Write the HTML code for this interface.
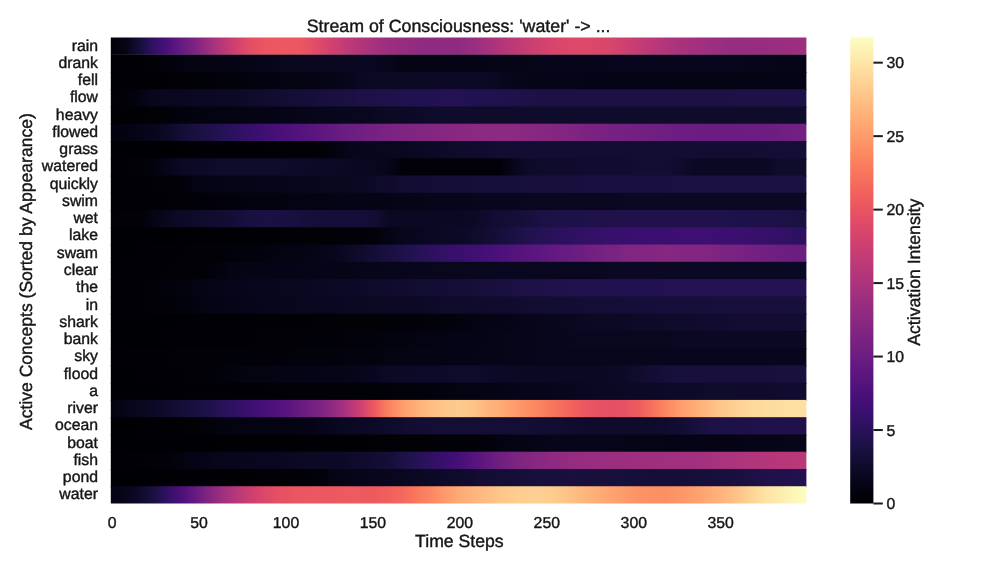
<!DOCTYPE html>
<html><head><meta charset="utf-8"><title>Stream of Consciousness</title>
<style>
html,body{margin:0;padding:0;background:#fff;}
body{width:1000px;height:571px;overflow:hidden;}
svg{display:block;}
text{text-rendering:geometricPrecision;font-family:"Liberation Sans",Arial,sans-serif;fill:#161616;stroke:#161616;stroke-width:0.4px;}
.t{font-size:15.8px;}
.l{font-size:17.8px;}
.a{font-size:17.65px;}
</style></head><body>
<svg width="1000" height="571" viewBox="0 0 1000 571">
<defs>
<linearGradient id="g0" gradientUnits="userSpaceOnUse" x1="110.80" y1="0" x2="806.40" y2="0"><stop offset="0" stop-color="#020109"/><stop offset="0.02" stop-color="#040414"/><stop offset="0.04" stop-color="#140e36"/><stop offset="0.06" stop-color="#2f1163"/><stop offset="0.08" stop-color="#4a1079"/><stop offset="0.1" stop-color="#641a80"/><stop offset="0.12" stop-color="#7c2382"/><stop offset="0.14" stop-color="#9b2e7f"/><stop offset="0.16" stop-color="#b83779"/><stop offset="0.18" stop-color="#d0416f"/><stop offset="0.2" stop-color="#e34e65"/><stop offset="0.22" stop-color="#ea5661"/><stop offset="0.24" stop-color="#ec5860"/><stop offset="0.26" stop-color="#ec5860"/><stop offset="0.28" stop-color="#e95462"/><stop offset="0.3" stop-color="#de4968"/><stop offset="0.32" stop-color="#cf4070"/><stop offset="0.34" stop-color="#bf3a77"/><stop offset="0.36" stop-color="#b2357b"/><stop offset="0.38" stop-color="#a6317d"/><stop offset="0.4" stop-color="#9c2e7f"/><stop offset="0.42" stop-color="#962c80"/><stop offset="0.44" stop-color="#912b81"/><stop offset="0.46" stop-color="#902a81"/><stop offset="0.48" stop-color="#902a81"/><stop offset="0.5" stop-color="#902a81"/><stop offset="0.52" stop-color="#982d80"/><stop offset="0.54" stop-color="#a5317e"/><stop offset="0.56" stop-color="#b2357b"/><stop offset="0.58" stop-color="#bd3977"/><stop offset="0.6" stop-color="#c83e73"/><stop offset="0.62" stop-color="#d2426f"/><stop offset="0.64" stop-color="#d9466b"/><stop offset="0.66" stop-color="#dc4869"/><stop offset="0.68" stop-color="#de4968"/><stop offset="0.7" stop-color="#db476a"/><stop offset="0.72" stop-color="#d6456c"/><stop offset="0.74" stop-color="#cd4071"/><stop offset="0.76" stop-color="#c43c75"/><stop offset="0.78" stop-color="#ba3878"/><stop offset="0.8" stop-color="#b0357b"/><stop offset="0.82" stop-color="#a8327d"/><stop offset="0.84" stop-color="#a3307e"/><stop offset="0.86" stop-color="#9e2f7f"/><stop offset="0.88" stop-color="#992d80"/><stop offset="0.9" stop-color="#962c80"/><stop offset="0.92" stop-color="#982d80"/><stop offset="0.94" stop-color="#982d80"/><stop offset="0.96" stop-color="#992d80"/><stop offset="0.98" stop-color="#9b2e7f"/><stop offset="1" stop-color="#9e2f7f"/></linearGradient>
<linearGradient id="g1" gradientUnits="userSpaceOnUse" x1="110.80" y1="0" x2="806.40" y2="0"><stop offset="0" stop-color="#000004"/><stop offset="0.02" stop-color="#010005"/><stop offset="0.04" stop-color="#010005"/><stop offset="0.06" stop-color="#010108"/><stop offset="0.08" stop-color="#02020b"/><stop offset="0.1" stop-color="#030312"/><stop offset="0.12" stop-color="#030312"/><stop offset="0.14" stop-color="#040414"/><stop offset="0.16" stop-color="#050416"/><stop offset="0.18" stop-color="#050416"/><stop offset="0.2" stop-color="#060518"/><stop offset="0.22" stop-color="#06051a"/><stop offset="0.24" stop-color="#08071e"/><stop offset="0.26" stop-color="#08071e"/><stop offset="0.28" stop-color="#08071e"/><stop offset="0.3" stop-color="#090720"/><stop offset="0.32" stop-color="#090720"/><stop offset="0.34" stop-color="#090720"/><stop offset="0.36" stop-color="#090720"/><stop offset="0.38" stop-color="#090720"/><stop offset="0.4" stop-color="#07061c"/><stop offset="0.42" stop-color="#040414"/><stop offset="0.44" stop-color="#040414"/><stop offset="0.46" stop-color="#040414"/><stop offset="0.48" stop-color="#050416"/><stop offset="0.5" stop-color="#050416"/><stop offset="0.52" stop-color="#050416"/><stop offset="0.54" stop-color="#050416"/><stop offset="0.56" stop-color="#060518"/><stop offset="0.58" stop-color="#060518"/><stop offset="0.6" stop-color="#060518"/><stop offset="0.62" stop-color="#06051a"/><stop offset="0.64" stop-color="#06051a"/><stop offset="0.66" stop-color="#06051a"/><stop offset="0.68" stop-color="#06051a"/><stop offset="0.7" stop-color="#06051a"/><stop offset="0.72" stop-color="#07061c"/><stop offset="0.74" stop-color="#07061c"/><stop offset="0.76" stop-color="#07061c"/><stop offset="0.78" stop-color="#07061c"/><stop offset="0.8" stop-color="#07061c"/><stop offset="0.82" stop-color="#07061c"/><stop offset="0.84" stop-color="#07061c"/><stop offset="0.86" stop-color="#07061c"/><stop offset="0.88" stop-color="#07061c"/><stop offset="0.9" stop-color="#07061c"/><stop offset="0.92" stop-color="#06051a"/><stop offset="0.94" stop-color="#06051a"/><stop offset="0.96" stop-color="#060518"/><stop offset="0.98" stop-color="#060518"/><stop offset="1" stop-color="#050416"/></linearGradient>
<linearGradient id="g2" gradientUnits="userSpaceOnUse" x1="110.80" y1="0" x2="806.40" y2="0"><stop offset="0" stop-color="#000004"/><stop offset="0.02" stop-color="#000004"/><stop offset="0.04" stop-color="#010005"/><stop offset="0.06" stop-color="#010005"/><stop offset="0.08" stop-color="#010005"/><stop offset="0.1" stop-color="#010106"/><stop offset="0.12" stop-color="#010108"/><stop offset="0.14" stop-color="#020109"/><stop offset="0.16" stop-color="#02020b"/><stop offset="0.18" stop-color="#02020d"/><stop offset="0.2" stop-color="#03030f"/><stop offset="0.22" stop-color="#03030f"/><stop offset="0.24" stop-color="#030312"/><stop offset="0.26" stop-color="#030312"/><stop offset="0.28" stop-color="#030312"/><stop offset="0.3" stop-color="#040414"/><stop offset="0.32" stop-color="#060518"/><stop offset="0.34" stop-color="#07061c"/><stop offset="0.36" stop-color="#0a0822"/><stop offset="0.38" stop-color="#0b0924"/><stop offset="0.4" stop-color="#0b0924"/><stop offset="0.42" stop-color="#0b0924"/><stop offset="0.44" stop-color="#0b0924"/><stop offset="0.46" stop-color="#0c0926"/><stop offset="0.48" stop-color="#0c0926"/><stop offset="0.5" stop-color="#0c0926"/><stop offset="0.52" stop-color="#0c0926"/><stop offset="0.54" stop-color="#0c0926"/><stop offset="0.56" stop-color="#090720"/><stop offset="0.58" stop-color="#06051a"/><stop offset="0.6" stop-color="#060518"/><stop offset="0.62" stop-color="#060518"/><stop offset="0.64" stop-color="#060518"/><stop offset="0.66" stop-color="#060518"/><stop offset="0.68" stop-color="#050416"/><stop offset="0.7" stop-color="#050416"/><stop offset="0.72" stop-color="#050416"/><stop offset="0.74" stop-color="#050416"/><stop offset="0.76" stop-color="#050416"/><stop offset="0.78" stop-color="#050416"/><stop offset="0.8" stop-color="#050416"/><stop offset="0.82" stop-color="#040414"/><stop offset="0.84" stop-color="#040414"/><stop offset="0.86" stop-color="#040414"/><stop offset="0.88" stop-color="#040414"/><stop offset="0.9" stop-color="#040414"/><stop offset="0.92" stop-color="#040414"/><stop offset="0.94" stop-color="#040414"/><stop offset="0.96" stop-color="#040414"/><stop offset="0.98" stop-color="#040414"/><stop offset="1" stop-color="#040414"/></linearGradient>
<linearGradient id="g3" gradientUnits="userSpaceOnUse" x1="110.80" y1="0" x2="806.40" y2="0"><stop offset="0" stop-color="#010005"/><stop offset="0.02" stop-color="#010108"/><stop offset="0.04" stop-color="#030312"/><stop offset="0.06" stop-color="#08071e"/><stop offset="0.08" stop-color="#090720"/><stop offset="0.1" stop-color="#090720"/><stop offset="0.12" stop-color="#0a0822"/><stop offset="0.14" stop-color="#0a0822"/><stop offset="0.16" stop-color="#0b0924"/><stop offset="0.18" stop-color="#0c0926"/><stop offset="0.2" stop-color="#0e0b2b"/><stop offset="0.22" stop-color="#110c2f"/><stop offset="0.24" stop-color="#120d31"/><stop offset="0.26" stop-color="#140e36"/><stop offset="0.28" stop-color="#150e38"/><stop offset="0.3" stop-color="#180f3d"/><stop offset="0.32" stop-color="#19103f"/><stop offset="0.34" stop-color="#1a1042"/><stop offset="0.36" stop-color="#1d1147"/><stop offset="0.38" stop-color="#1e1149"/><stop offset="0.4" stop-color="#20114b"/><stop offset="0.42" stop-color="#21114e"/><stop offset="0.44" stop-color="#221150"/><stop offset="0.46" stop-color="#221150"/><stop offset="0.48" stop-color="#241253"/><stop offset="0.5" stop-color="#241253"/><stop offset="0.52" stop-color="#221150"/><stop offset="0.54" stop-color="#221150"/><stop offset="0.56" stop-color="#21114e"/><stop offset="0.58" stop-color="#20114b"/><stop offset="0.6" stop-color="#1d1147"/><stop offset="0.62" stop-color="#1c1044"/><stop offset="0.64" stop-color="#1c1044"/><stop offset="0.66" stop-color="#1c1044"/><stop offset="0.68" stop-color="#1c1044"/><stop offset="0.7" stop-color="#1c1044"/><stop offset="0.72" stop-color="#1c1044"/><stop offset="0.74" stop-color="#1c1044"/><stop offset="0.76" stop-color="#1c1044"/><stop offset="0.78" stop-color="#1c1044"/><stop offset="0.8" stop-color="#1c1044"/><stop offset="0.82" stop-color="#1c1044"/><stop offset="0.84" stop-color="#1c1044"/><stop offset="0.86" stop-color="#1c1044"/><stop offset="0.88" stop-color="#1c1044"/><stop offset="0.9" stop-color="#1d1147"/><stop offset="0.92" stop-color="#1d1147"/><stop offset="0.94" stop-color="#1d1147"/><stop offset="0.96" stop-color="#1d1147"/><stop offset="0.98" stop-color="#1d1147"/><stop offset="1" stop-color="#1e1149"/></linearGradient>
<linearGradient id="g4" gradientUnits="userSpaceOnUse" x1="110.80" y1="0" x2="806.40" y2="0"><stop offset="0" stop-color="#000004"/><stop offset="0.02" stop-color="#010005"/><stop offset="0.04" stop-color="#010005"/><stop offset="0.06" stop-color="#010106"/><stop offset="0.08" stop-color="#010108"/><stop offset="0.1" stop-color="#02020d"/><stop offset="0.12" stop-color="#03030f"/><stop offset="0.14" stop-color="#030312"/><stop offset="0.16" stop-color="#030312"/><stop offset="0.18" stop-color="#030312"/><stop offset="0.2" stop-color="#040414"/><stop offset="0.22" stop-color="#040414"/><stop offset="0.24" stop-color="#050416"/><stop offset="0.26" stop-color="#060518"/><stop offset="0.28" stop-color="#06051a"/><stop offset="0.3" stop-color="#07061c"/><stop offset="0.32" stop-color="#07061c"/><stop offset="0.34" stop-color="#08071e"/><stop offset="0.36" stop-color="#08071e"/><stop offset="0.38" stop-color="#0a0822"/><stop offset="0.4" stop-color="#0b0924"/><stop offset="0.42" stop-color="#0c0926"/><stop offset="0.44" stop-color="#0d0a29"/><stop offset="0.46" stop-color="#0e0b2b"/><stop offset="0.48" stop-color="#0e0b2b"/><stop offset="0.5" stop-color="#0e0b2b"/><stop offset="0.52" stop-color="#0e0b2b"/><stop offset="0.54" stop-color="#0e0b2b"/><stop offset="0.56" stop-color="#0e0b2b"/><stop offset="0.58" stop-color="#0e0b2b"/><stop offset="0.6" stop-color="#0e0b2b"/><stop offset="0.62" stop-color="#0e0b2b"/><stop offset="0.64" stop-color="#0e0b2b"/><stop offset="0.66" stop-color="#0e0b2b"/><stop offset="0.68" stop-color="#0e0b2b"/><stop offset="0.7" stop-color="#0e0b2b"/><stop offset="0.72" stop-color="#0e0b2b"/><stop offset="0.74" stop-color="#0e0b2b"/><stop offset="0.76" stop-color="#0e0b2b"/><stop offset="0.78" stop-color="#0e0b2b"/><stop offset="0.8" stop-color="#0e0b2b"/><stop offset="0.82" stop-color="#0e0b2b"/><stop offset="0.84" stop-color="#0e0b2b"/><stop offset="0.86" stop-color="#0e0b2b"/><stop offset="0.88" stop-color="#0e0b2b"/><stop offset="0.9" stop-color="#0e0b2b"/><stop offset="0.92" stop-color="#0e0b2b"/><stop offset="0.94" stop-color="#0e0b2b"/><stop offset="0.96" stop-color="#0e0b2b"/><stop offset="0.98" stop-color="#0e0b2b"/><stop offset="1" stop-color="#0e0b2b"/></linearGradient>
<linearGradient id="g5" gradientUnits="userSpaceOnUse" x1="110.80" y1="0" x2="806.40" y2="0"><stop offset="0" stop-color="#02020d"/><stop offset="0.02" stop-color="#030312"/><stop offset="0.04" stop-color="#050416"/><stop offset="0.06" stop-color="#07061c"/><stop offset="0.08" stop-color="#0c0926"/><stop offset="0.1" stop-color="#130d34"/><stop offset="0.12" stop-color="#19103f"/><stop offset="0.14" stop-color="#1e1149"/><stop offset="0.16" stop-color="#251255"/><stop offset="0.18" stop-color="#2d1161"/><stop offset="0.2" stop-color="#36106b"/><stop offset="0.22" stop-color="#3f0f72"/><stop offset="0.24" stop-color="#471078"/><stop offset="0.26" stop-color="#4e117b"/><stop offset="0.28" stop-color="#56147d"/><stop offset="0.3" stop-color="#5d177f"/><stop offset="0.32" stop-color="#651a80"/><stop offset="0.34" stop-color="#6b1d81"/><stop offset="0.36" stop-color="#701f81"/><stop offset="0.38" stop-color="#762181"/><stop offset="0.4" stop-color="#7b2382"/><stop offset="0.42" stop-color="#7e2482"/><stop offset="0.44" stop-color="#812581"/><stop offset="0.46" stop-color="#842681"/><stop offset="0.48" stop-color="#862781"/><stop offset="0.5" stop-color="#892881"/><stop offset="0.52" stop-color="#8b2981"/><stop offset="0.54" stop-color="#8c2981"/><stop offset="0.56" stop-color="#8c2981"/><stop offset="0.58" stop-color="#8c2981"/><stop offset="0.6" stop-color="#892881"/><stop offset="0.62" stop-color="#862781"/><stop offset="0.64" stop-color="#842681"/><stop offset="0.66" stop-color="#802582"/><stop offset="0.68" stop-color="#7c2382"/><stop offset="0.7" stop-color="#792282"/><stop offset="0.72" stop-color="#762181"/><stop offset="0.74" stop-color="#752181"/><stop offset="0.76" stop-color="#721f81"/><stop offset="0.78" stop-color="#701f81"/><stop offset="0.8" stop-color="#6e1e81"/><stop offset="0.82" stop-color="#6d1d81"/><stop offset="0.84" stop-color="#6b1d81"/><stop offset="0.86" stop-color="#6a1c81"/><stop offset="0.88" stop-color="#6a1c81"/><stop offset="0.9" stop-color="#6a1c81"/><stop offset="0.92" stop-color="#6b1d81"/><stop offset="0.94" stop-color="#6d1d81"/><stop offset="0.96" stop-color="#6e1e81"/><stop offset="0.98" stop-color="#721f81"/><stop offset="1" stop-color="#752181"/></linearGradient>
<linearGradient id="g6" gradientUnits="userSpaceOnUse" x1="110.80" y1="0" x2="806.40" y2="0"><stop offset="0" stop-color="#000004"/><stop offset="0.02" stop-color="#000004"/><stop offset="0.04" stop-color="#000004"/><stop offset="0.06" stop-color="#000004"/><stop offset="0.08" stop-color="#000004"/><stop offset="0.1" stop-color="#000004"/><stop offset="0.12" stop-color="#010005"/><stop offset="0.14" stop-color="#010005"/><stop offset="0.16" stop-color="#010005"/><stop offset="0.18" stop-color="#010005"/><stop offset="0.2" stop-color="#010005"/><stop offset="0.22" stop-color="#010005"/><stop offset="0.24" stop-color="#010106"/><stop offset="0.26" stop-color="#010106"/><stop offset="0.28" stop-color="#010106"/><stop offset="0.3" stop-color="#010108"/><stop offset="0.32" stop-color="#03030f"/><stop offset="0.34" stop-color="#06051a"/><stop offset="0.36" stop-color="#07061c"/><stop offset="0.38" stop-color="#08071e"/><stop offset="0.4" stop-color="#08071e"/><stop offset="0.42" stop-color="#090720"/><stop offset="0.44" stop-color="#0a0822"/><stop offset="0.46" stop-color="#0b0924"/><stop offset="0.48" stop-color="#0d0a29"/><stop offset="0.5" stop-color="#0e0b2b"/><stop offset="0.52" stop-color="#100b2d"/><stop offset="0.54" stop-color="#110c2f"/><stop offset="0.56" stop-color="#120d31"/><stop offset="0.58" stop-color="#120d31"/><stop offset="0.6" stop-color="#130d34"/><stop offset="0.62" stop-color="#130d34"/><stop offset="0.64" stop-color="#130d34"/><stop offset="0.66" stop-color="#130d34"/><stop offset="0.68" stop-color="#130d34"/><stop offset="0.7" stop-color="#130d34"/><stop offset="0.72" stop-color="#130d34"/><stop offset="0.74" stop-color="#130d34"/><stop offset="0.76" stop-color="#130d34"/><stop offset="0.78" stop-color="#130d34"/><stop offset="0.8" stop-color="#130d34"/><stop offset="0.82" stop-color="#130d34"/><stop offset="0.84" stop-color="#130d34"/><stop offset="0.86" stop-color="#130d34"/><stop offset="0.88" stop-color="#130d34"/><stop offset="0.9" stop-color="#130d34"/><stop offset="0.92" stop-color="#130d34"/><stop offset="0.94" stop-color="#140e36"/><stop offset="0.96" stop-color="#140e36"/><stop offset="0.98" stop-color="#140e36"/><stop offset="1" stop-color="#140e36"/></linearGradient>
<linearGradient id="g7" gradientUnits="userSpaceOnUse" x1="110.80" y1="0" x2="806.40" y2="0"><stop offset="0" stop-color="#000004"/><stop offset="0.02" stop-color="#010005"/><stop offset="0.04" stop-color="#010108"/><stop offset="0.06" stop-color="#02020d"/><stop offset="0.08" stop-color="#06051a"/><stop offset="0.1" stop-color="#0a0822"/><stop offset="0.12" stop-color="#0c0926"/><stop offset="0.14" stop-color="#0d0a29"/><stop offset="0.16" stop-color="#0e0b2b"/><stop offset="0.18" stop-color="#0e0b2b"/><stop offset="0.2" stop-color="#0e0b2b"/><stop offset="0.22" stop-color="#0e0b2b"/><stop offset="0.24" stop-color="#0e0b2b"/><stop offset="0.26" stop-color="#0d0a29"/><stop offset="0.28" stop-color="#0d0a29"/><stop offset="0.3" stop-color="#0c0926"/><stop offset="0.32" stop-color="#0b0924"/><stop offset="0.34" stop-color="#0a0822"/><stop offset="0.36" stop-color="#090720"/><stop offset="0.38" stop-color="#090720"/><stop offset="0.4" stop-color="#06051a"/><stop offset="0.42" stop-color="#020109"/><stop offset="0.44" stop-color="#020109"/><stop offset="0.46" stop-color="#020109"/><stop offset="0.48" stop-color="#020109"/><stop offset="0.5" stop-color="#020109"/><stop offset="0.52" stop-color="#020109"/><stop offset="0.54" stop-color="#020109"/><stop offset="0.56" stop-color="#020109"/><stop offset="0.58" stop-color="#07061c"/><stop offset="0.6" stop-color="#0d0a29"/><stop offset="0.62" stop-color="#0e0b2b"/><stop offset="0.64" stop-color="#100b2d"/><stop offset="0.66" stop-color="#100b2d"/><stop offset="0.68" stop-color="#110c2f"/><stop offset="0.7" stop-color="#110c2f"/><stop offset="0.72" stop-color="#110c2f"/><stop offset="0.74" stop-color="#110c2f"/><stop offset="0.76" stop-color="#120d31"/><stop offset="0.78" stop-color="#120d31"/><stop offset="0.8" stop-color="#120d31"/><stop offset="0.82" stop-color="#100b2d"/><stop offset="0.84" stop-color="#0a0822"/><stop offset="0.86" stop-color="#0a0822"/><stop offset="0.88" stop-color="#0a0822"/><stop offset="0.9" stop-color="#0a0822"/><stop offset="0.92" stop-color="#0a0822"/><stop offset="0.94" stop-color="#0a0822"/><stop offset="0.96" stop-color="#0e0b2b"/><stop offset="0.98" stop-color="#0e0b2b"/><stop offset="1" stop-color="#0e0b2b"/></linearGradient>
<linearGradient id="g8" gradientUnits="userSpaceOnUse" x1="110.80" y1="0" x2="806.40" y2="0"><stop offset="0" stop-color="#000004"/><stop offset="0.02" stop-color="#000004"/><stop offset="0.04" stop-color="#010005"/><stop offset="0.06" stop-color="#010005"/><stop offset="0.08" stop-color="#010106"/><stop offset="0.1" stop-color="#020109"/><stop offset="0.12" stop-color="#030312"/><stop offset="0.14" stop-color="#040414"/><stop offset="0.16" stop-color="#050416"/><stop offset="0.18" stop-color="#060518"/><stop offset="0.2" stop-color="#060518"/><stop offset="0.22" stop-color="#06051a"/><stop offset="0.24" stop-color="#06051a"/><stop offset="0.26" stop-color="#07061c"/><stop offset="0.28" stop-color="#07061c"/><stop offset="0.3" stop-color="#08071e"/><stop offset="0.32" stop-color="#08071e"/><stop offset="0.34" stop-color="#090720"/><stop offset="0.36" stop-color="#0a0822"/><stop offset="0.38" stop-color="#0d0a29"/><stop offset="0.4" stop-color="#100b2d"/><stop offset="0.42" stop-color="#120d31"/><stop offset="0.44" stop-color="#130d34"/><stop offset="0.46" stop-color="#140e36"/><stop offset="0.48" stop-color="#150e38"/><stop offset="0.5" stop-color="#150e38"/><stop offset="0.52" stop-color="#150e38"/><stop offset="0.54" stop-color="#160f3b"/><stop offset="0.56" stop-color="#160f3b"/><stop offset="0.58" stop-color="#160f3b"/><stop offset="0.6" stop-color="#180f3d"/><stop offset="0.62" stop-color="#180f3d"/><stop offset="0.64" stop-color="#180f3d"/><stop offset="0.66" stop-color="#180f3d"/><stop offset="0.68" stop-color="#19103f"/><stop offset="0.7" stop-color="#19103f"/><stop offset="0.72" stop-color="#19103f"/><stop offset="0.74" stop-color="#19103f"/><stop offset="0.76" stop-color="#19103f"/><stop offset="0.78" stop-color="#19103f"/><stop offset="0.8" stop-color="#1a1042"/><stop offset="0.82" stop-color="#1a1042"/><stop offset="0.84" stop-color="#1a1042"/><stop offset="0.86" stop-color="#1a1042"/><stop offset="0.88" stop-color="#1a1042"/><stop offset="0.9" stop-color="#1a1042"/><stop offset="0.92" stop-color="#1a1042"/><stop offset="0.94" stop-color="#1a1042"/><stop offset="0.96" stop-color="#1a1042"/><stop offset="0.98" stop-color="#1a1042"/><stop offset="1" stop-color="#1a1042"/></linearGradient>
<linearGradient id="g9" gradientUnits="userSpaceOnUse" x1="110.80" y1="0" x2="806.40" y2="0"><stop offset="0" stop-color="#000004"/><stop offset="0.02" stop-color="#000004"/><stop offset="0.04" stop-color="#010005"/><stop offset="0.06" stop-color="#010005"/><stop offset="0.08" stop-color="#010005"/><stop offset="0.1" stop-color="#010106"/><stop offset="0.12" stop-color="#010108"/><stop offset="0.14" stop-color="#020109"/><stop offset="0.16" stop-color="#02020b"/><stop offset="0.18" stop-color="#02020d"/><stop offset="0.2" stop-color="#03030f"/><stop offset="0.22" stop-color="#03030f"/><stop offset="0.24" stop-color="#03030f"/><stop offset="0.26" stop-color="#030312"/><stop offset="0.28" stop-color="#030312"/><stop offset="0.3" stop-color="#030312"/><stop offset="0.32" stop-color="#040414"/><stop offset="0.34" stop-color="#040414"/><stop offset="0.36" stop-color="#040414"/><stop offset="0.38" stop-color="#050416"/><stop offset="0.4" stop-color="#050416"/><stop offset="0.42" stop-color="#060518"/><stop offset="0.44" stop-color="#060518"/><stop offset="0.46" stop-color="#06051a"/><stop offset="0.48" stop-color="#06051a"/><stop offset="0.5" stop-color="#06051a"/><stop offset="0.52" stop-color="#07061c"/><stop offset="0.54" stop-color="#07061c"/><stop offset="0.56" stop-color="#07061c"/><stop offset="0.58" stop-color="#08071e"/><stop offset="0.6" stop-color="#08071e"/><stop offset="0.62" stop-color="#08071e"/><stop offset="0.64" stop-color="#090720"/><stop offset="0.66" stop-color="#090720"/><stop offset="0.68" stop-color="#090720"/><stop offset="0.7" stop-color="#090720"/><stop offset="0.72" stop-color="#090720"/><stop offset="0.74" stop-color="#0a0822"/><stop offset="0.76" stop-color="#0a0822"/><stop offset="0.78" stop-color="#0a0822"/><stop offset="0.8" stop-color="#0a0822"/><stop offset="0.82" stop-color="#0a0822"/><stop offset="0.84" stop-color="#0a0822"/><stop offset="0.86" stop-color="#0a0822"/><stop offset="0.88" stop-color="#0a0822"/><stop offset="0.9" stop-color="#0a0822"/><stop offset="0.92" stop-color="#0a0822"/><stop offset="0.94" stop-color="#0a0822"/><stop offset="0.96" stop-color="#0a0822"/><stop offset="0.98" stop-color="#0a0822"/><stop offset="1" stop-color="#0a0822"/></linearGradient>
<linearGradient id="g10" gradientUnits="userSpaceOnUse" x1="110.80" y1="0" x2="806.40" y2="0"><stop offset="0" stop-color="#010005"/><stop offset="0.02" stop-color="#010106"/><stop offset="0.04" stop-color="#010108"/><stop offset="0.06" stop-color="#040414"/><stop offset="0.08" stop-color="#08071e"/><stop offset="0.1" stop-color="#0c0926"/><stop offset="0.12" stop-color="#0e0b2b"/><stop offset="0.14" stop-color="#110c2f"/><stop offset="0.16" stop-color="#120d31"/><stop offset="0.18" stop-color="#150e38"/><stop offset="0.2" stop-color="#19103f"/><stop offset="0.22" stop-color="#1a1042"/><stop offset="0.24" stop-color="#1a1042"/><stop offset="0.26" stop-color="#19103f"/><stop offset="0.28" stop-color="#160f3b"/><stop offset="0.3" stop-color="#150e38"/><stop offset="0.32" stop-color="#150e38"/><stop offset="0.34" stop-color="#150e38"/><stop offset="0.36" stop-color="#150e38"/><stop offset="0.38" stop-color="#130d34"/><stop offset="0.4" stop-color="#0a0822"/><stop offset="0.42" stop-color="#0a0822"/><stop offset="0.44" stop-color="#0a0822"/><stop offset="0.46" stop-color="#0a0822"/><stop offset="0.48" stop-color="#0a0822"/><stop offset="0.5" stop-color="#0a0822"/><stop offset="0.52" stop-color="#0b0924"/><stop offset="0.54" stop-color="#100b2d"/><stop offset="0.56" stop-color="#130d34"/><stop offset="0.58" stop-color="#150e38"/><stop offset="0.6" stop-color="#180f3d"/><stop offset="0.62" stop-color="#1c1044"/><stop offset="0.64" stop-color="#1d1147"/><stop offset="0.66" stop-color="#1e1149"/><stop offset="0.68" stop-color="#1e1149"/><stop offset="0.7" stop-color="#20114b"/><stop offset="0.72" stop-color="#20114b"/><stop offset="0.74" stop-color="#20114b"/><stop offset="0.76" stop-color="#20114b"/><stop offset="0.78" stop-color="#20114b"/><stop offset="0.8" stop-color="#20114b"/><stop offset="0.82" stop-color="#20114b"/><stop offset="0.84" stop-color="#20114b"/><stop offset="0.86" stop-color="#20114b"/><stop offset="0.88" stop-color="#20114b"/><stop offset="0.9" stop-color="#1e1149"/><stop offset="0.92" stop-color="#1e1149"/><stop offset="0.94" stop-color="#1d1147"/><stop offset="0.96" stop-color="#1d1147"/><stop offset="0.98" stop-color="#1c1044"/><stop offset="1" stop-color="#1a1042"/></linearGradient>
<linearGradient id="g11" gradientUnits="userSpaceOnUse" x1="110.80" y1="0" x2="806.40" y2="0"><stop offset="0" stop-color="#000004"/><stop offset="0.02" stop-color="#000004"/><stop offset="0.04" stop-color="#000004"/><stop offset="0.06" stop-color="#000004"/><stop offset="0.08" stop-color="#000004"/><stop offset="0.1" stop-color="#000004"/><stop offset="0.12" stop-color="#010005"/><stop offset="0.14" stop-color="#010005"/><stop offset="0.16" stop-color="#010005"/><stop offset="0.18" stop-color="#010005"/><stop offset="0.2" stop-color="#010005"/><stop offset="0.22" stop-color="#010005"/><stop offset="0.24" stop-color="#010005"/><stop offset="0.26" stop-color="#010106"/><stop offset="0.28" stop-color="#010106"/><stop offset="0.3" stop-color="#010106"/><stop offset="0.32" stop-color="#010106"/><stop offset="0.34" stop-color="#010108"/><stop offset="0.36" stop-color="#020109"/><stop offset="0.38" stop-color="#02020b"/><stop offset="0.4" stop-color="#050416"/><stop offset="0.42" stop-color="#07061c"/><stop offset="0.44" stop-color="#090720"/><stop offset="0.46" stop-color="#0a0822"/><stop offset="0.48" stop-color="#0b0924"/><stop offset="0.5" stop-color="#0c0926"/><stop offset="0.52" stop-color="#0e0b2b"/><stop offset="0.54" stop-color="#120d31"/><stop offset="0.56" stop-color="#160f3b"/><stop offset="0.58" stop-color="#1c1044"/><stop offset="0.6" stop-color="#21114e"/><stop offset="0.62" stop-color="#251255"/><stop offset="0.64" stop-color="#2a115c"/><stop offset="0.66" stop-color="#2d1161"/><stop offset="0.68" stop-color="#311165"/><stop offset="0.7" stop-color="#341069"/><stop offset="0.72" stop-color="#38106c"/><stop offset="0.74" stop-color="#390f6e"/><stop offset="0.76" stop-color="#3b0f70"/><stop offset="0.78" stop-color="#3b0f70"/><stop offset="0.8" stop-color="#3b0f70"/><stop offset="0.82" stop-color="#3d0f71"/><stop offset="0.84" stop-color="#3d0f71"/><stop offset="0.86" stop-color="#3d0f71"/><stop offset="0.88" stop-color="#3b0f70"/><stop offset="0.9" stop-color="#3b0f70"/><stop offset="0.92" stop-color="#38106c"/><stop offset="0.94" stop-color="#36106b"/><stop offset="0.96" stop-color="#331067"/><stop offset="0.98" stop-color="#2f1163"/><stop offset="1" stop-color="#2a115c"/></linearGradient>
<linearGradient id="g12" gradientUnits="userSpaceOnUse" x1="110.80" y1="0" x2="806.40" y2="0"><stop offset="0" stop-color="#000004"/><stop offset="0.02" stop-color="#000004"/><stop offset="0.04" stop-color="#000004"/><stop offset="0.06" stop-color="#010005"/><stop offset="0.08" stop-color="#010005"/><stop offset="0.1" stop-color="#010005"/><stop offset="0.12" stop-color="#010106"/><stop offset="0.14" stop-color="#010106"/><stop offset="0.16" stop-color="#010108"/><stop offset="0.18" stop-color="#02020b"/><stop offset="0.2" stop-color="#02020d"/><stop offset="0.22" stop-color="#03030f"/><stop offset="0.24" stop-color="#030312"/><stop offset="0.26" stop-color="#030312"/><stop offset="0.28" stop-color="#040414"/><stop offset="0.3" stop-color="#060518"/><stop offset="0.32" stop-color="#07061c"/><stop offset="0.34" stop-color="#0b0924"/><stop offset="0.36" stop-color="#100b2d"/><stop offset="0.38" stop-color="#140e36"/><stop offset="0.4" stop-color="#19103f"/><stop offset="0.42" stop-color="#1e1149"/><stop offset="0.44" stop-color="#251255"/><stop offset="0.46" stop-color="#2c115f"/><stop offset="0.48" stop-color="#331067"/><stop offset="0.5" stop-color="#390f6e"/><stop offset="0.52" stop-color="#3f0f72"/><stop offset="0.54" stop-color="#451077"/><stop offset="0.56" stop-color="#4c117a"/><stop offset="0.58" stop-color="#52137c"/><stop offset="0.6" stop-color="#59157e"/><stop offset="0.62" stop-color="#5d177f"/><stop offset="0.64" stop-color="#641a80"/><stop offset="0.66" stop-color="#681c81"/><stop offset="0.68" stop-color="#6e1e81"/><stop offset="0.7" stop-color="#752181"/><stop offset="0.72" stop-color="#792282"/><stop offset="0.74" stop-color="#802582"/><stop offset="0.76" stop-color="#832681"/><stop offset="0.78" stop-color="#842681"/><stop offset="0.8" stop-color="#862781"/><stop offset="0.82" stop-color="#842681"/><stop offset="0.84" stop-color="#832681"/><stop offset="0.86" stop-color="#812581"/><stop offset="0.88" stop-color="#7c2382"/><stop offset="0.9" stop-color="#792282"/><stop offset="0.92" stop-color="#752181"/><stop offset="0.94" stop-color="#721f81"/><stop offset="0.96" stop-color="#6e1e81"/><stop offset="0.98" stop-color="#6d1d81"/><stop offset="1" stop-color="#6a1c81"/></linearGradient>
<linearGradient id="g13" gradientUnits="userSpaceOnUse" x1="110.80" y1="0" x2="806.40" y2="0"><stop offset="0" stop-color="#000004"/><stop offset="0.02" stop-color="#000004"/><stop offset="0.04" stop-color="#010005"/><stop offset="0.06" stop-color="#010005"/><stop offset="0.08" stop-color="#010005"/><stop offset="0.1" stop-color="#010106"/><stop offset="0.12" stop-color="#010108"/><stop offset="0.14" stop-color="#020109"/><stop offset="0.16" stop-color="#03030f"/><stop offset="0.18" stop-color="#040414"/><stop offset="0.2" stop-color="#040414"/><stop offset="0.22" stop-color="#050416"/><stop offset="0.24" stop-color="#050416"/><stop offset="0.26" stop-color="#050416"/><stop offset="0.28" stop-color="#060518"/><stop offset="0.3" stop-color="#060518"/><stop offset="0.32" stop-color="#060518"/><stop offset="0.34" stop-color="#060518"/><stop offset="0.36" stop-color="#06051a"/><stop offset="0.38" stop-color="#06051a"/><stop offset="0.4" stop-color="#07061c"/><stop offset="0.42" stop-color="#07061c"/><stop offset="0.44" stop-color="#07061c"/><stop offset="0.46" stop-color="#08071e"/><stop offset="0.48" stop-color="#08071e"/><stop offset="0.5" stop-color="#08071e"/><stop offset="0.52" stop-color="#08071e"/><stop offset="0.54" stop-color="#08071e"/><stop offset="0.56" stop-color="#090720"/><stop offset="0.58" stop-color="#090720"/><stop offset="0.6" stop-color="#090720"/><stop offset="0.62" stop-color="#090720"/><stop offset="0.64" stop-color="#090720"/><stop offset="0.66" stop-color="#090720"/><stop offset="0.68" stop-color="#090720"/><stop offset="0.7" stop-color="#090720"/><stop offset="0.72" stop-color="#0a0822"/><stop offset="0.74" stop-color="#0a0822"/><stop offset="0.76" stop-color="#0a0822"/><stop offset="0.78" stop-color="#0a0822"/><stop offset="0.8" stop-color="#0a0822"/><stop offset="0.82" stop-color="#0a0822"/><stop offset="0.84" stop-color="#0a0822"/><stop offset="0.86" stop-color="#0a0822"/><stop offset="0.88" stop-color="#0a0822"/><stop offset="0.9" stop-color="#0a0822"/><stop offset="0.92" stop-color="#0a0822"/><stop offset="0.94" stop-color="#0a0822"/><stop offset="0.96" stop-color="#0a0822"/><stop offset="0.98" stop-color="#0a0822"/><stop offset="1" stop-color="#0a0822"/></linearGradient>
<linearGradient id="g14" gradientUnits="userSpaceOnUse" x1="110.80" y1="0" x2="806.40" y2="0"><stop offset="0" stop-color="#000004"/><stop offset="0.02" stop-color="#010005"/><stop offset="0.04" stop-color="#010005"/><stop offset="0.06" stop-color="#010108"/><stop offset="0.08" stop-color="#02020b"/><stop offset="0.1" stop-color="#03030f"/><stop offset="0.12" stop-color="#030312"/><stop offset="0.14" stop-color="#050416"/><stop offset="0.16" stop-color="#060518"/><stop offset="0.18" stop-color="#06051a"/><stop offset="0.2" stop-color="#07061c"/><stop offset="0.22" stop-color="#07061c"/><stop offset="0.24" stop-color="#08071e"/><stop offset="0.26" stop-color="#08071e"/><stop offset="0.28" stop-color="#090720"/><stop offset="0.3" stop-color="#0a0822"/><stop offset="0.32" stop-color="#0b0924"/><stop offset="0.34" stop-color="#0c0926"/><stop offset="0.36" stop-color="#0d0a29"/><stop offset="0.38" stop-color="#0e0b2b"/><stop offset="0.4" stop-color="#100b2d"/><stop offset="0.42" stop-color="#110c2f"/><stop offset="0.44" stop-color="#120d31"/><stop offset="0.46" stop-color="#130d34"/><stop offset="0.48" stop-color="#140e36"/><stop offset="0.5" stop-color="#140e36"/><stop offset="0.52" stop-color="#150e38"/><stop offset="0.54" stop-color="#180f3d"/><stop offset="0.56" stop-color="#19103f"/><stop offset="0.58" stop-color="#1c1044"/><stop offset="0.6" stop-color="#1d1147"/><stop offset="0.62" stop-color="#1e1149"/><stop offset="0.64" stop-color="#20114b"/><stop offset="0.66" stop-color="#21114e"/><stop offset="0.68" stop-color="#21114e"/><stop offset="0.7" stop-color="#21114e"/><stop offset="0.72" stop-color="#221150"/><stop offset="0.74" stop-color="#221150"/><stop offset="0.76" stop-color="#221150"/><stop offset="0.78" stop-color="#221150"/><stop offset="0.8" stop-color="#241253"/><stop offset="0.82" stop-color="#241253"/><stop offset="0.84" stop-color="#241253"/><stop offset="0.86" stop-color="#241253"/><stop offset="0.88" stop-color="#241253"/><stop offset="0.9" stop-color="#241253"/><stop offset="0.92" stop-color="#241253"/><stop offset="0.94" stop-color="#241253"/><stop offset="0.96" stop-color="#241253"/><stop offset="0.98" stop-color="#241253"/><stop offset="1" stop-color="#241253"/></linearGradient>
<linearGradient id="g15" gradientUnits="userSpaceOnUse" x1="110.80" y1="0" x2="806.40" y2="0"><stop offset="0" stop-color="#000004"/><stop offset="0.02" stop-color="#010005"/><stop offset="0.04" stop-color="#010005"/><stop offset="0.06" stop-color="#010106"/><stop offset="0.08" stop-color="#010108"/><stop offset="0.1" stop-color="#02020b"/><stop offset="0.12" stop-color="#03030f"/><stop offset="0.14" stop-color="#040414"/><stop offset="0.16" stop-color="#050416"/><stop offset="0.18" stop-color="#060518"/><stop offset="0.2" stop-color="#06051a"/><stop offset="0.22" stop-color="#07061c"/><stop offset="0.24" stop-color="#07061c"/><stop offset="0.26" stop-color="#08071e"/><stop offset="0.28" stop-color="#08071e"/><stop offset="0.3" stop-color="#090720"/><stop offset="0.32" stop-color="#090720"/><stop offset="0.34" stop-color="#0a0822"/><stop offset="0.36" stop-color="#0a0822"/><stop offset="0.38" stop-color="#0b0924"/><stop offset="0.4" stop-color="#0b0924"/><stop offset="0.42" stop-color="#0c0926"/><stop offset="0.44" stop-color="#0c0926"/><stop offset="0.46" stop-color="#0d0a29"/><stop offset="0.48" stop-color="#0e0b2b"/><stop offset="0.5" stop-color="#0e0b2b"/><stop offset="0.52" stop-color="#100b2d"/><stop offset="0.54" stop-color="#100b2d"/><stop offset="0.56" stop-color="#110c2f"/><stop offset="0.58" stop-color="#110c2f"/><stop offset="0.6" stop-color="#120d31"/><stop offset="0.62" stop-color="#120d31"/><stop offset="0.64" stop-color="#130d34"/><stop offset="0.66" stop-color="#130d34"/><stop offset="0.68" stop-color="#140e36"/><stop offset="0.7" stop-color="#140e36"/><stop offset="0.72" stop-color="#140e36"/><stop offset="0.74" stop-color="#150e38"/><stop offset="0.76" stop-color="#150e38"/><stop offset="0.78" stop-color="#150e38"/><stop offset="0.8" stop-color="#160f3b"/><stop offset="0.82" stop-color="#160f3b"/><stop offset="0.84" stop-color="#160f3b"/><stop offset="0.86" stop-color="#160f3b"/><stop offset="0.88" stop-color="#180f3d"/><stop offset="0.9" stop-color="#180f3d"/><stop offset="0.92" stop-color="#180f3d"/><stop offset="0.94" stop-color="#180f3d"/><stop offset="0.96" stop-color="#180f3d"/><stop offset="0.98" stop-color="#180f3d"/><stop offset="1" stop-color="#19103f"/></linearGradient>
<linearGradient id="g16" gradientUnits="userSpaceOnUse" x1="110.80" y1="0" x2="806.40" y2="0"><stop offset="0" stop-color="#000004"/><stop offset="0.02" stop-color="#000004"/><stop offset="0.04" stop-color="#000004"/><stop offset="0.06" stop-color="#000004"/><stop offset="0.08" stop-color="#000004"/><stop offset="0.1" stop-color="#000004"/><stop offset="0.12" stop-color="#010005"/><stop offset="0.14" stop-color="#010005"/><stop offset="0.16" stop-color="#010005"/><stop offset="0.18" stop-color="#010005"/><stop offset="0.2" stop-color="#010005"/><stop offset="0.22" stop-color="#010005"/><stop offset="0.24" stop-color="#010005"/><stop offset="0.26" stop-color="#010005"/><stop offset="0.28" stop-color="#010005"/><stop offset="0.3" stop-color="#010106"/><stop offset="0.32" stop-color="#010106"/><stop offset="0.34" stop-color="#010106"/><stop offset="0.36" stop-color="#010106"/><stop offset="0.38" stop-color="#010106"/><stop offset="0.4" stop-color="#010108"/><stop offset="0.42" stop-color="#020109"/><stop offset="0.44" stop-color="#020109"/><stop offset="0.46" stop-color="#02020b"/><stop offset="0.48" stop-color="#02020d"/><stop offset="0.5" stop-color="#03030f"/><stop offset="0.52" stop-color="#030312"/><stop offset="0.54" stop-color="#040414"/><stop offset="0.56" stop-color="#050416"/><stop offset="0.58" stop-color="#060518"/><stop offset="0.6" stop-color="#06051a"/><stop offset="0.62" stop-color="#07061c"/><stop offset="0.64" stop-color="#08071e"/><stop offset="0.66" stop-color="#090720"/><stop offset="0.68" stop-color="#0a0822"/><stop offset="0.7" stop-color="#0b0924"/><stop offset="0.72" stop-color="#0b0924"/><stop offset="0.74" stop-color="#0c0926"/><stop offset="0.76" stop-color="#0d0a29"/><stop offset="0.78" stop-color="#0d0a29"/><stop offset="0.8" stop-color="#0e0b2b"/><stop offset="0.82" stop-color="#100b2d"/><stop offset="0.84" stop-color="#100b2d"/><stop offset="0.86" stop-color="#110c2f"/><stop offset="0.88" stop-color="#110c2f"/><stop offset="0.9" stop-color="#120d31"/><stop offset="0.92" stop-color="#120d31"/><stop offset="0.94" stop-color="#120d31"/><stop offset="0.96" stop-color="#120d31"/><stop offset="0.98" stop-color="#130d34"/><stop offset="1" stop-color="#130d34"/></linearGradient>
<linearGradient id="g17" gradientUnits="userSpaceOnUse" x1="110.80" y1="0" x2="806.40" y2="0"><stop offset="0" stop-color="#000004"/><stop offset="0.02" stop-color="#000004"/><stop offset="0.04" stop-color="#000004"/><stop offset="0.06" stop-color="#000004"/><stop offset="0.08" stop-color="#000004"/><stop offset="0.1" stop-color="#010005"/><stop offset="0.12" stop-color="#010005"/><stop offset="0.14" stop-color="#010005"/><stop offset="0.16" stop-color="#010005"/><stop offset="0.18" stop-color="#010005"/><stop offset="0.2" stop-color="#010005"/><stop offset="0.22" stop-color="#010106"/><stop offset="0.24" stop-color="#010106"/><stop offset="0.26" stop-color="#010106"/><stop offset="0.28" stop-color="#010108"/><stop offset="0.3" stop-color="#010108"/><stop offset="0.32" stop-color="#020109"/><stop offset="0.34" stop-color="#02020b"/><stop offset="0.36" stop-color="#02020b"/><stop offset="0.38" stop-color="#02020d"/><stop offset="0.4" stop-color="#03030f"/><stop offset="0.42" stop-color="#03030f"/><stop offset="0.44" stop-color="#030312"/><stop offset="0.46" stop-color="#030312"/><stop offset="0.48" stop-color="#040414"/><stop offset="0.5" stop-color="#040414"/><stop offset="0.52" stop-color="#050416"/><stop offset="0.54" stop-color="#050416"/><stop offset="0.56" stop-color="#060518"/><stop offset="0.58" stop-color="#06051a"/><stop offset="0.6" stop-color="#06051a"/><stop offset="0.62" stop-color="#07061c"/><stop offset="0.64" stop-color="#07061c"/><stop offset="0.66" stop-color="#08071e"/><stop offset="0.68" stop-color="#08071e"/><stop offset="0.7" stop-color="#08071e"/><stop offset="0.72" stop-color="#090720"/><stop offset="0.74" stop-color="#090720"/><stop offset="0.76" stop-color="#090720"/><stop offset="0.78" stop-color="#090720"/><stop offset="0.8" stop-color="#090720"/><stop offset="0.82" stop-color="#0a0822"/><stop offset="0.84" stop-color="#0a0822"/><stop offset="0.86" stop-color="#0a0822"/><stop offset="0.88" stop-color="#0a0822"/><stop offset="0.9" stop-color="#0a0822"/><stop offset="0.92" stop-color="#0a0822"/><stop offset="0.94" stop-color="#0a0822"/><stop offset="0.96" stop-color="#0a0822"/><stop offset="0.98" stop-color="#0a0822"/><stop offset="1" stop-color="#0a0822"/></linearGradient>
<linearGradient id="g18" gradientUnits="userSpaceOnUse" x1="110.80" y1="0" x2="806.40" y2="0"><stop offset="0" stop-color="#000004"/><stop offset="0.02" stop-color="#010005"/><stop offset="0.04" stop-color="#010005"/><stop offset="0.06" stop-color="#010005"/><stop offset="0.08" stop-color="#010005"/><stop offset="0.1" stop-color="#010106"/><stop offset="0.12" stop-color="#010106"/><stop offset="0.14" stop-color="#010106"/><stop offset="0.16" stop-color="#010108"/><stop offset="0.18" stop-color="#010108"/><stop offset="0.2" stop-color="#010108"/><stop offset="0.22" stop-color="#020109"/><stop offset="0.24" stop-color="#020109"/><stop offset="0.26" stop-color="#02020b"/><stop offset="0.28" stop-color="#02020b"/><stop offset="0.3" stop-color="#02020d"/><stop offset="0.32" stop-color="#02020d"/><stop offset="0.34" stop-color="#03030f"/><stop offset="0.36" stop-color="#03030f"/><stop offset="0.38" stop-color="#03030f"/><stop offset="0.4" stop-color="#030312"/><stop offset="0.42" stop-color="#030312"/><stop offset="0.44" stop-color="#040414"/><stop offset="0.46" stop-color="#040414"/><stop offset="0.48" stop-color="#050416"/><stop offset="0.5" stop-color="#050416"/><stop offset="0.52" stop-color="#050416"/><stop offset="0.54" stop-color="#060518"/><stop offset="0.56" stop-color="#060518"/><stop offset="0.58" stop-color="#06051a"/><stop offset="0.6" stop-color="#06051a"/><stop offset="0.62" stop-color="#07061c"/><stop offset="0.64" stop-color="#07061c"/><stop offset="0.66" stop-color="#07061c"/><stop offset="0.68" stop-color="#07061c"/><stop offset="0.7" stop-color="#07061c"/><stop offset="0.72" stop-color="#07061c"/><stop offset="0.74" stop-color="#07061c"/><stop offset="0.76" stop-color="#07061c"/><stop offset="0.78" stop-color="#07061c"/><stop offset="0.8" stop-color="#07061c"/><stop offset="0.82" stop-color="#07061c"/><stop offset="0.84" stop-color="#07061c"/><stop offset="0.86" stop-color="#07061c"/><stop offset="0.88" stop-color="#07061c"/><stop offset="0.9" stop-color="#07061c"/><stop offset="0.92" stop-color="#07061c"/><stop offset="0.94" stop-color="#07061c"/><stop offset="0.96" stop-color="#07061c"/><stop offset="0.98" stop-color="#07061c"/><stop offset="1" stop-color="#07061c"/></linearGradient>
<linearGradient id="g19" gradientUnits="userSpaceOnUse" x1="110.80" y1="0" x2="806.40" y2="0"><stop offset="0" stop-color="#000004"/><stop offset="0.02" stop-color="#000004"/><stop offset="0.04" stop-color="#000004"/><stop offset="0.06" stop-color="#010005"/><stop offset="0.08" stop-color="#010005"/><stop offset="0.1" stop-color="#010005"/><stop offset="0.12" stop-color="#010106"/><stop offset="0.14" stop-color="#010108"/><stop offset="0.16" stop-color="#02020d"/><stop offset="0.18" stop-color="#03030f"/><stop offset="0.2" stop-color="#030312"/><stop offset="0.22" stop-color="#030312"/><stop offset="0.24" stop-color="#040414"/><stop offset="0.26" stop-color="#040414"/><stop offset="0.28" stop-color="#050416"/><stop offset="0.3" stop-color="#050416"/><stop offset="0.32" stop-color="#060518"/><stop offset="0.34" stop-color="#060518"/><stop offset="0.36" stop-color="#07061c"/><stop offset="0.38" stop-color="#090720"/><stop offset="0.4" stop-color="#0b0924"/><stop offset="0.42" stop-color="#0c0926"/><stop offset="0.44" stop-color="#0d0a29"/><stop offset="0.46" stop-color="#0d0a29"/><stop offset="0.48" stop-color="#0d0a29"/><stop offset="0.5" stop-color="#0e0b2b"/><stop offset="0.52" stop-color="#0e0b2b"/><stop offset="0.54" stop-color="#0d0a29"/><stop offset="0.56" stop-color="#0c0926"/><stop offset="0.58" stop-color="#0b0924"/><stop offset="0.6" stop-color="#0a0822"/><stop offset="0.62" stop-color="#0a0822"/><stop offset="0.64" stop-color="#0a0822"/><stop offset="0.66" stop-color="#0a0822"/><stop offset="0.68" stop-color="#0a0822"/><stop offset="0.7" stop-color="#0a0822"/><stop offset="0.72" stop-color="#0b0924"/><stop offset="0.74" stop-color="#0d0a29"/><stop offset="0.76" stop-color="#110c2f"/><stop offset="0.78" stop-color="#140e36"/><stop offset="0.8" stop-color="#160f3b"/><stop offset="0.82" stop-color="#180f3d"/><stop offset="0.84" stop-color="#180f3d"/><stop offset="0.86" stop-color="#180f3d"/><stop offset="0.88" stop-color="#180f3d"/><stop offset="0.9" stop-color="#180f3d"/><stop offset="0.92" stop-color="#180f3d"/><stop offset="0.94" stop-color="#180f3d"/><stop offset="0.96" stop-color="#19103f"/><stop offset="0.98" stop-color="#19103f"/><stop offset="1" stop-color="#19103f"/></linearGradient>
<linearGradient id="g20" gradientUnits="userSpaceOnUse" x1="110.80" y1="0" x2="806.40" y2="0"><stop offset="0" stop-color="#000004"/><stop offset="0.02" stop-color="#000004"/><stop offset="0.04" stop-color="#000004"/><stop offset="0.06" stop-color="#000004"/><stop offset="0.08" stop-color="#000004"/><stop offset="0.1" stop-color="#010005"/><stop offset="0.12" stop-color="#010005"/><stop offset="0.14" stop-color="#010005"/><stop offset="0.16" stop-color="#010005"/><stop offset="0.18" stop-color="#010005"/><stop offset="0.2" stop-color="#010005"/><stop offset="0.22" stop-color="#010005"/><stop offset="0.24" stop-color="#010106"/><stop offset="0.26" stop-color="#010106"/><stop offset="0.28" stop-color="#010106"/><stop offset="0.3" stop-color="#010106"/><stop offset="0.32" stop-color="#010106"/><stop offset="0.34" stop-color="#010108"/><stop offset="0.36" stop-color="#010108"/><stop offset="0.38" stop-color="#010108"/><stop offset="0.4" stop-color="#020109"/><stop offset="0.42" stop-color="#02020b"/><stop offset="0.44" stop-color="#02020b"/><stop offset="0.46" stop-color="#02020d"/><stop offset="0.48" stop-color="#03030f"/><stop offset="0.5" stop-color="#030312"/><stop offset="0.52" stop-color="#030312"/><stop offset="0.54" stop-color="#040414"/><stop offset="0.56" stop-color="#050416"/><stop offset="0.58" stop-color="#060518"/><stop offset="0.6" stop-color="#06051a"/><stop offset="0.62" stop-color="#06051a"/><stop offset="0.64" stop-color="#07061c"/><stop offset="0.66" stop-color="#08071e"/><stop offset="0.68" stop-color="#090720"/><stop offset="0.7" stop-color="#0a0822"/><stop offset="0.72" stop-color="#0a0822"/><stop offset="0.74" stop-color="#0b0924"/><stop offset="0.76" stop-color="#0c0926"/><stop offset="0.78" stop-color="#0c0926"/><stop offset="0.8" stop-color="#0d0a29"/><stop offset="0.82" stop-color="#0d0a29"/><stop offset="0.84" stop-color="#0d0a29"/><stop offset="0.86" stop-color="#0e0b2b"/><stop offset="0.88" stop-color="#0e0b2b"/><stop offset="0.9" stop-color="#100b2d"/><stop offset="0.92" stop-color="#100b2d"/><stop offset="0.94" stop-color="#100b2d"/><stop offset="0.96" stop-color="#110c2f"/><stop offset="0.98" stop-color="#110c2f"/><stop offset="1" stop-color="#110c2f"/></linearGradient>
<linearGradient id="g21" gradientUnits="userSpaceOnUse" x1="110.80" y1="0" x2="806.40" y2="0"><stop offset="0" stop-color="#03030f"/><stop offset="0.02" stop-color="#060518"/><stop offset="0.04" stop-color="#08071e"/><stop offset="0.06" stop-color="#0b0924"/><stop offset="0.08" stop-color="#100b2d"/><stop offset="0.1" stop-color="#140e36"/><stop offset="0.12" stop-color="#19103f"/><stop offset="0.14" stop-color="#1e1149"/><stop offset="0.16" stop-color="#271258"/><stop offset="0.18" stop-color="#311165"/><stop offset="0.2" stop-color="#3d0f71"/><stop offset="0.22" stop-color="#471078"/><stop offset="0.24" stop-color="#51127c"/><stop offset="0.26" stop-color="#5d177f"/><stop offset="0.28" stop-color="#6d1d81"/><stop offset="0.3" stop-color="#7c2382"/><stop offset="0.32" stop-color="#912b81"/><stop offset="0.34" stop-color="#ad347c"/><stop offset="0.36" stop-color="#d0416f"/><stop offset="0.38" stop-color="#ee5b5e"/><stop offset="0.4" stop-color="#fb835f"/><stop offset="0.42" stop-color="#fe9d6c"/><stop offset="0.44" stop-color="#feb078"/><stop offset="0.46" stop-color="#febd82"/><stop offset="0.48" stop-color="#fec68a"/><stop offset="0.5" stop-color="#feca8d"/><stop offset="0.52" stop-color="#fec488"/><stop offset="0.54" stop-color="#feb77e"/><stop offset="0.56" stop-color="#feac76"/><stop offset="0.58" stop-color="#fe9d6c"/><stop offset="0.6" stop-color="#fc8e64"/><stop offset="0.62" stop-color="#fa815f"/><stop offset="0.64" stop-color="#f7725c"/><stop offset="0.66" stop-color="#f3655c"/><stop offset="0.68" stop-color="#ec5860"/><stop offset="0.7" stop-color="#e75263"/><stop offset="0.72" stop-color="#e44f64"/><stop offset="0.74" stop-color="#e75263"/><stop offset="0.76" stop-color="#ef5d5e"/><stop offset="0.78" stop-color="#f7725c"/><stop offset="0.8" stop-color="#fc8a62"/><stop offset="0.82" stop-color="#fe9d6c"/><stop offset="0.84" stop-color="#feac76"/><stop offset="0.86" stop-color="#febb81"/><stop offset="0.88" stop-color="#fec88c"/><stop offset="0.9" stop-color="#fed194"/><stop offset="0.92" stop-color="#fed89a"/><stop offset="0.94" stop-color="#fddc9e"/><stop offset="0.96" stop-color="#fddea0"/><stop offset="0.98" stop-color="#fde0a1"/><stop offset="1" stop-color="#fde0a1"/></linearGradient>
<linearGradient id="g22" gradientUnits="userSpaceOnUse" x1="110.80" y1="0" x2="806.40" y2="0"><stop offset="0" stop-color="#000004"/><stop offset="0.02" stop-color="#000004"/><stop offset="0.04" stop-color="#000004"/><stop offset="0.06" stop-color="#010005"/><stop offset="0.08" stop-color="#010005"/><stop offset="0.1" stop-color="#010005"/><stop offset="0.12" stop-color="#010106"/><stop offset="0.14" stop-color="#02020b"/><stop offset="0.16" stop-color="#03030f"/><stop offset="0.18" stop-color="#030312"/><stop offset="0.2" stop-color="#030312"/><stop offset="0.22" stop-color="#030312"/><stop offset="0.24" stop-color="#030312"/><stop offset="0.26" stop-color="#040414"/><stop offset="0.28" stop-color="#040414"/><stop offset="0.3" stop-color="#06051a"/><stop offset="0.32" stop-color="#090720"/><stop offset="0.34" stop-color="#0a0822"/><stop offset="0.36" stop-color="#0c0926"/><stop offset="0.38" stop-color="#0d0a29"/><stop offset="0.4" stop-color="#0e0b2b"/><stop offset="0.42" stop-color="#110c2f"/><stop offset="0.44" stop-color="#130d34"/><stop offset="0.46" stop-color="#140e36"/><stop offset="0.48" stop-color="#140e36"/><stop offset="0.5" stop-color="#140e36"/><stop offset="0.52" stop-color="#140e36"/><stop offset="0.54" stop-color="#140e36"/><stop offset="0.56" stop-color="#140e36"/><stop offset="0.58" stop-color="#140e36"/><stop offset="0.6" stop-color="#140e36"/><stop offset="0.62" stop-color="#130d34"/><stop offset="0.64" stop-color="#120d31"/><stop offset="0.66" stop-color="#110c2f"/><stop offset="0.68" stop-color="#100b2d"/><stop offset="0.7" stop-color="#0e0b2b"/><stop offset="0.72" stop-color="#0e0b2b"/><stop offset="0.74" stop-color="#0e0b2b"/><stop offset="0.76" stop-color="#0e0b2b"/><stop offset="0.78" stop-color="#100b2d"/><stop offset="0.8" stop-color="#110c2f"/><stop offset="0.82" stop-color="#130d34"/><stop offset="0.84" stop-color="#180f3d"/><stop offset="0.86" stop-color="#1c1044"/><stop offset="0.88" stop-color="#1d1147"/><stop offset="0.9" stop-color="#1d1147"/><stop offset="0.92" stop-color="#1e1149"/><stop offset="0.94" stop-color="#20114b"/><stop offset="0.96" stop-color="#20114b"/><stop offset="0.98" stop-color="#20114b"/><stop offset="1" stop-color="#20114b"/></linearGradient>
<linearGradient id="g23" gradientUnits="userSpaceOnUse" x1="110.80" y1="0" x2="806.40" y2="0"><stop offset="0" stop-color="#000004"/><stop offset="0.02" stop-color="#000004"/><stop offset="0.04" stop-color="#000004"/><stop offset="0.06" stop-color="#000004"/><stop offset="0.08" stop-color="#000004"/><stop offset="0.1" stop-color="#000004"/><stop offset="0.12" stop-color="#000004"/><stop offset="0.14" stop-color="#000004"/><stop offset="0.16" stop-color="#000004"/><stop offset="0.18" stop-color="#010005"/><stop offset="0.2" stop-color="#010005"/><stop offset="0.22" stop-color="#010005"/><stop offset="0.24" stop-color="#010005"/><stop offset="0.26" stop-color="#010005"/><stop offset="0.28" stop-color="#010005"/><stop offset="0.3" stop-color="#010005"/><stop offset="0.32" stop-color="#010005"/><stop offset="0.34" stop-color="#010005"/><stop offset="0.36" stop-color="#010005"/><stop offset="0.38" stop-color="#010106"/><stop offset="0.4" stop-color="#010106"/><stop offset="0.42" stop-color="#010106"/><stop offset="0.44" stop-color="#010106"/><stop offset="0.46" stop-color="#010106"/><stop offset="0.48" stop-color="#010108"/><stop offset="0.5" stop-color="#010108"/><stop offset="0.52" stop-color="#020109"/><stop offset="0.54" stop-color="#02020b"/><stop offset="0.56" stop-color="#030312"/><stop offset="0.58" stop-color="#040414"/><stop offset="0.6" stop-color="#050416"/><stop offset="0.62" stop-color="#060518"/><stop offset="0.64" stop-color="#06051a"/><stop offset="0.66" stop-color="#06051a"/><stop offset="0.68" stop-color="#06051a"/><stop offset="0.7" stop-color="#06051a"/><stop offset="0.72" stop-color="#06051a"/><stop offset="0.74" stop-color="#060518"/><stop offset="0.76" stop-color="#060518"/><stop offset="0.78" stop-color="#060518"/><stop offset="0.8" stop-color="#050416"/><stop offset="0.82" stop-color="#050416"/><stop offset="0.84" stop-color="#050416"/><stop offset="0.86" stop-color="#050416"/><stop offset="0.88" stop-color="#050416"/><stop offset="0.9" stop-color="#050416"/><stop offset="0.92" stop-color="#060518"/><stop offset="0.94" stop-color="#060518"/><stop offset="0.96" stop-color="#060518"/><stop offset="0.98" stop-color="#06051a"/><stop offset="1" stop-color="#06051a"/></linearGradient>
<linearGradient id="g24" gradientUnits="userSpaceOnUse" x1="110.80" y1="0" x2="806.40" y2="0"><stop offset="0" stop-color="#000004"/><stop offset="0.02" stop-color="#010005"/><stop offset="0.04" stop-color="#010005"/><stop offset="0.06" stop-color="#010106"/><stop offset="0.08" stop-color="#020109"/><stop offset="0.1" stop-color="#03030f"/><stop offset="0.12" stop-color="#050416"/><stop offset="0.14" stop-color="#060518"/><stop offset="0.16" stop-color="#07061c"/><stop offset="0.18" stop-color="#07061c"/><stop offset="0.2" stop-color="#08071e"/><stop offset="0.22" stop-color="#090720"/><stop offset="0.24" stop-color="#090720"/><stop offset="0.26" stop-color="#0a0822"/><stop offset="0.28" stop-color="#0b0924"/><stop offset="0.3" stop-color="#0b0924"/><stop offset="0.32" stop-color="#0c0926"/><stop offset="0.34" stop-color="#0d0a29"/><stop offset="0.36" stop-color="#100b2d"/><stop offset="0.38" stop-color="#120d31"/><stop offset="0.4" stop-color="#150e38"/><stop offset="0.42" stop-color="#1d1147"/><stop offset="0.44" stop-color="#251255"/><stop offset="0.46" stop-color="#2f1163"/><stop offset="0.48" stop-color="#390f6e"/><stop offset="0.5" stop-color="#451077"/><stop offset="0.52" stop-color="#54137d"/><stop offset="0.54" stop-color="#621980"/><stop offset="0.56" stop-color="#701f81"/><stop offset="0.58" stop-color="#7b2382"/><stop offset="0.6" stop-color="#832681"/><stop offset="0.62" stop-color="#892881"/><stop offset="0.64" stop-color="#902a81"/><stop offset="0.66" stop-color="#942c80"/><stop offset="0.68" stop-color="#982d80"/><stop offset="0.7" stop-color="#992d80"/><stop offset="0.72" stop-color="#9b2e7f"/><stop offset="0.74" stop-color="#9c2e7f"/><stop offset="0.76" stop-color="#9e2f7f"/><stop offset="0.78" stop-color="#9e2f7f"/><stop offset="0.8" stop-color="#a02f7f"/><stop offset="0.82" stop-color="#a02f7f"/><stop offset="0.84" stop-color="#a1307e"/><stop offset="0.86" stop-color="#a5317e"/><stop offset="0.88" stop-color="#aa337d"/><stop offset="0.9" stop-color="#ad347c"/><stop offset="0.92" stop-color="#b0357b"/><stop offset="0.94" stop-color="#b3367a"/><stop offset="0.96" stop-color="#b73779"/><stop offset="0.98" stop-color="#b83779"/><stop offset="1" stop-color="#bc3978"/></linearGradient>
<linearGradient id="g25" gradientUnits="userSpaceOnUse" x1="110.80" y1="0" x2="806.40" y2="0"><stop offset="0" stop-color="#000004"/><stop offset="0.02" stop-color="#000004"/><stop offset="0.04" stop-color="#000004"/><stop offset="0.06" stop-color="#000004"/><stop offset="0.08" stop-color="#000004"/><stop offset="0.1" stop-color="#010005"/><stop offset="0.12" stop-color="#010005"/><stop offset="0.14" stop-color="#010005"/><stop offset="0.16" stop-color="#010005"/><stop offset="0.18" stop-color="#010005"/><stop offset="0.2" stop-color="#010005"/><stop offset="0.22" stop-color="#010106"/><stop offset="0.24" stop-color="#010106"/><stop offset="0.26" stop-color="#010106"/><stop offset="0.28" stop-color="#010108"/><stop offset="0.3" stop-color="#02020b"/><stop offset="0.32" stop-color="#040414"/><stop offset="0.34" stop-color="#060518"/><stop offset="0.36" stop-color="#06051a"/><stop offset="0.38" stop-color="#07061c"/><stop offset="0.4" stop-color="#08071e"/><stop offset="0.42" stop-color="#090720"/><stop offset="0.44" stop-color="#0a0822"/><stop offset="0.46" stop-color="#0b0924"/><stop offset="0.48" stop-color="#0d0a29"/><stop offset="0.5" stop-color="#0e0b2b"/><stop offset="0.52" stop-color="#110c2f"/><stop offset="0.54" stop-color="#130d34"/><stop offset="0.56" stop-color="#140e36"/><stop offset="0.58" stop-color="#150e38"/><stop offset="0.6" stop-color="#160f3b"/><stop offset="0.62" stop-color="#180f3d"/><stop offset="0.64" stop-color="#180f3d"/><stop offset="0.66" stop-color="#19103f"/><stop offset="0.68" stop-color="#180f3d"/><stop offset="0.7" stop-color="#180f3d"/><stop offset="0.72" stop-color="#180f3d"/><stop offset="0.74" stop-color="#160f3b"/><stop offset="0.76" stop-color="#160f3b"/><stop offset="0.78" stop-color="#150e38"/><stop offset="0.8" stop-color="#150e38"/><stop offset="0.82" stop-color="#150e38"/><stop offset="0.84" stop-color="#160f3b"/><stop offset="0.86" stop-color="#160f3b"/><stop offset="0.88" stop-color="#180f3d"/><stop offset="0.9" stop-color="#19103f"/><stop offset="0.92" stop-color="#1c1044"/><stop offset="0.94" stop-color="#1e1149"/><stop offset="0.96" stop-color="#20114b"/><stop offset="0.98" stop-color="#21114e"/><stop offset="1" stop-color="#21114e"/></linearGradient>
<linearGradient id="g26" gradientUnits="userSpaceOnUse" x1="110.80" y1="0" x2="806.40" y2="0"><stop offset="0" stop-color="#030312"/><stop offset="0.02" stop-color="#06051a"/><stop offset="0.04" stop-color="#0d0a29"/><stop offset="0.06" stop-color="#19103f"/><stop offset="0.08" stop-color="#2f1163"/><stop offset="0.1" stop-color="#4a1079"/><stop offset="0.12" stop-color="#641a80"/><stop offset="0.14" stop-color="#812581"/><stop offset="0.16" stop-color="#9e2f7f"/><stop offset="0.18" stop-color="#b73779"/><stop offset="0.2" stop-color="#cc3f71"/><stop offset="0.22" stop-color="#db476a"/><stop offset="0.24" stop-color="#e55064"/><stop offset="0.26" stop-color="#e95462"/><stop offset="0.28" stop-color="#eb5760"/><stop offset="0.3" stop-color="#ec5860"/><stop offset="0.32" stop-color="#ec5860"/><stop offset="0.34" stop-color="#ed5a5f"/><stop offset="0.36" stop-color="#ed5a5f"/><stop offset="0.38" stop-color="#ee5b5e"/><stop offset="0.4" stop-color="#f05f5e"/><stop offset="0.42" stop-color="#f4695c"/><stop offset="0.44" stop-color="#f9785d"/><stop offset="0.46" stop-color="#fb8761"/><stop offset="0.48" stop-color="#fd9a6a"/><stop offset="0.5" stop-color="#fea973"/><stop offset="0.52" stop-color="#feb47b"/><stop offset="0.54" stop-color="#febd82"/><stop offset="0.56" stop-color="#fec68a"/><stop offset="0.58" stop-color="#fecc8f"/><stop offset="0.6" stop-color="#fecf92"/><stop offset="0.62" stop-color="#fecf92"/><stop offset="0.64" stop-color="#feca8d"/><stop offset="0.66" stop-color="#fec185"/><stop offset="0.68" stop-color="#feb67c"/><stop offset="0.7" stop-color="#feac76"/><stop offset="0.72" stop-color="#fea36f"/><stop offset="0.74" stop-color="#fd9a6a"/><stop offset="0.76" stop-color="#fd9266"/><stop offset="0.78" stop-color="#fc9065"/><stop offset="0.8" stop-color="#fc9065"/><stop offset="0.82" stop-color="#fd9668"/><stop offset="0.84" stop-color="#fe9f6d"/><stop offset="0.86" stop-color="#feaa74"/><stop offset="0.88" stop-color="#feb67c"/><stop offset="0.9" stop-color="#fec287"/><stop offset="0.92" stop-color="#fed395"/><stop offset="0.94" stop-color="#fde2a3"/><stop offset="0.96" stop-color="#fcecae"/><stop offset="0.98" stop-color="#fcf6b8"/><stop offset="1" stop-color="#fcfdbf"/></linearGradient>
<linearGradient id="cb" x1="0" y1="0" x2="0" y2="1"><stop offset="0" stop-color="#fcfdbf"/><stop offset="0.01562" stop-color="#fcf7b9"/><stop offset="0.03125" stop-color="#fcf0b2"/><stop offset="0.04688" stop-color="#fde9aa"/><stop offset="0.0625" stop-color="#fde2a3"/><stop offset="0.07812" stop-color="#fdda9c"/><stop offset="0.09375" stop-color="#fed395"/><stop offset="0.1094" stop-color="#fecc8f"/><stop offset="0.125" stop-color="#fec488"/><stop offset="0.1406" stop-color="#febd82"/><stop offset="0.1562" stop-color="#feb67c"/><stop offset="0.1719" stop-color="#feae77"/><stop offset="0.1875" stop-color="#fea772"/><stop offset="0.2031" stop-color="#fe9f6d"/><stop offset="0.2188" stop-color="#fd9869"/><stop offset="0.2344" stop-color="#fc9065"/><stop offset="0.25" stop-color="#fc8961"/><stop offset="0.2656" stop-color="#fa815f"/><stop offset="0.2812" stop-color="#f9795d"/><stop offset="0.2969" stop-color="#f7725c"/><stop offset="0.3125" stop-color="#f56b5c"/><stop offset="0.3281" stop-color="#f2645c"/><stop offset="0.3438" stop-color="#ef5d5e"/><stop offset="0.3594" stop-color="#eb5760"/><stop offset="0.375" stop-color="#e75263"/><stop offset="0.3906" stop-color="#e24d66"/><stop offset="0.4062" stop-color="#dc4869"/><stop offset="0.4219" stop-color="#d6456c"/><stop offset="0.4375" stop-color="#d0416f"/><stop offset="0.4531" stop-color="#ca3e72"/><stop offset="0.4688" stop-color="#c43c75"/><stop offset="0.4844" stop-color="#bd3977"/><stop offset="0.5" stop-color="#b73779"/><stop offset="0.5156" stop-color="#b0357b"/><stop offset="0.5312" stop-color="#aa337d"/><stop offset="0.5469" stop-color="#a3307e"/><stop offset="0.5625" stop-color="#9c2e7f"/><stop offset="0.5781" stop-color="#962c80"/><stop offset="0.5938" stop-color="#902a81"/><stop offset="0.6094" stop-color="#892881"/><stop offset="0.625" stop-color="#832681"/><stop offset="0.6406" stop-color="#7c2382"/><stop offset="0.6562" stop-color="#762181"/><stop offset="0.6719" stop-color="#701f81"/><stop offset="0.6875" stop-color="#6a1c81"/><stop offset="0.7031" stop-color="#641a80"/><stop offset="0.7188" stop-color="#5d177f"/><stop offset="0.7344" stop-color="#57157e"/><stop offset="0.75" stop-color="#51127c"/><stop offset="0.7656" stop-color="#4a1079"/><stop offset="0.7812" stop-color="#440f76"/><stop offset="0.7969" stop-color="#3d0f71"/><stop offset="0.8125" stop-color="#36106b"/><stop offset="0.8281" stop-color="#2f1163"/><stop offset="0.8438" stop-color="#29115a"/><stop offset="0.8594" stop-color="#221150"/><stop offset="0.875" stop-color="#1d1147"/><stop offset="0.8906" stop-color="#180f3d"/><stop offset="0.9062" stop-color="#130d34"/><stop offset="0.9219" stop-color="#0e0b2b"/><stop offset="0.9375" stop-color="#0a0822"/><stop offset="0.9531" stop-color="#06051a"/><stop offset="0.9688" stop-color="#030312"/><stop offset="0.9844" stop-color="#020109"/><stop offset="1" stop-color="#000004"/></linearGradient>
</defs>
<rect width="1000" height="571" fill="#fff"/>
<clipPath id="hc"><rect x="110.80" y="37.40" width="695.60" height="466.10"/></clipPath>
<g clip-path="url(#hc)">
<rect x="108.80" y="36.40" width="699.60" height="18.46" fill="url(#g0)"/>
<rect x="108.80" y="54.66" width="699.60" height="18.46" fill="url(#g1)"/>
<rect x="108.80" y="71.93" width="699.60" height="18.46" fill="url(#g2)"/>
<rect x="108.80" y="89.19" width="699.60" height="18.46" fill="url(#g3)"/>
<rect x="108.80" y="106.45" width="699.60" height="18.46" fill="url(#g4)"/>
<rect x="108.80" y="123.71" width="699.60" height="18.46" fill="url(#g5)"/>
<rect x="108.80" y="140.98" width="699.60" height="18.46" fill="url(#g6)"/>
<rect x="108.80" y="158.24" width="699.60" height="18.46" fill="url(#g7)"/>
<rect x="108.80" y="175.50" width="699.60" height="18.46" fill="url(#g8)"/>
<rect x="108.80" y="192.77" width="699.60" height="18.46" fill="url(#g9)"/>
<rect x="108.80" y="210.03" width="699.60" height="18.46" fill="url(#g10)"/>
<rect x="108.80" y="227.29" width="699.60" height="18.46" fill="url(#g11)"/>
<rect x="108.80" y="244.56" width="699.60" height="18.46" fill="url(#g12)"/>
<rect x="108.80" y="261.82" width="699.60" height="18.46" fill="url(#g13)"/>
<rect x="108.80" y="279.08" width="699.60" height="18.46" fill="url(#g14)"/>
<rect x="108.80" y="296.34" width="699.60" height="18.46" fill="url(#g15)"/>
<rect x="108.80" y="313.61" width="699.60" height="18.46" fill="url(#g16)"/>
<rect x="108.80" y="330.87" width="699.60" height="18.46" fill="url(#g17)"/>
<rect x="108.80" y="348.13" width="699.60" height="18.46" fill="url(#g18)"/>
<rect x="108.80" y="365.40" width="699.60" height="18.46" fill="url(#g19)"/>
<rect x="108.80" y="382.66" width="699.60" height="18.46" fill="url(#g20)"/>
<rect x="108.80" y="399.92" width="699.60" height="18.46" fill="url(#g21)"/>
<rect x="108.80" y="417.19" width="699.60" height="18.46" fill="url(#g22)"/>
<rect x="108.80" y="434.45" width="699.60" height="18.46" fill="url(#g23)"/>
<rect x="108.80" y="451.71" width="699.60" height="18.46" fill="url(#g24)"/>
<rect x="108.80" y="468.97" width="699.60" height="18.46" fill="url(#g25)"/>
<rect x="108.80" y="486.24" width="699.60" height="18.46" fill="url(#g26)"/>
</g>
<rect x="850.2" y="37.4" width="23.2" height="466.1" fill="url(#cb)"/>
<text class="l" x="458.6" y="31.6" text-anchor="middle">Stream of Consciousness: 'water' -&gt; ...</text>
<text class="a" x="459.4" y="546.9" text-anchor="middle">Time Steps</text>
<text class="a" style="font-size:17.55px" transform="translate(32 271.6) rotate(-90)" text-anchor="middle">Active Concepts (Sorted by Appearance)</text>
<text class="a" transform="translate(920.3 272.2) rotate(-90)" text-anchor="middle">Activation Intensity</text>
<text class="t" x="98" y="50.5" text-anchor="end">rain</text>
<text class="t" x="98" y="67.8" text-anchor="end">drank</text>
<text class="t" x="98" y="85.1" text-anchor="end">fell</text>
<text class="t" x="98" y="102.3" text-anchor="end">flow</text>
<text class="t" x="98" y="119.6" text-anchor="end">heavy</text>
<text class="t" x="98" y="136.8" text-anchor="end">flowed</text>
<text class="t" x="98" y="154.1" text-anchor="end">grass</text>
<text class="t" x="98" y="171.4" text-anchor="end">watered</text>
<text class="t" x="98" y="188.6" text-anchor="end">quickly</text>
<text class="t" x="98" y="205.9" text-anchor="end">swim</text>
<text class="t" x="98" y="223.2" text-anchor="end">wet</text>
<text class="t" x="98" y="240.4" text-anchor="end">lake</text>
<text class="t" x="98" y="257.7" text-anchor="end">swam</text>
<text class="t" x="98" y="274.9" text-anchor="end">clear</text>
<text class="t" x="98" y="292.2" text-anchor="end">the</text>
<text class="t" x="98" y="309.5" text-anchor="end">in</text>
<text class="t" x="98" y="326.7" text-anchor="end">shark</text>
<text class="t" x="98" y="344.0" text-anchor="end">bank</text>
<text class="t" x="98" y="361.3" text-anchor="end">sky</text>
<text class="t" x="98" y="378.5" text-anchor="end">flood</text>
<text class="t" x="98" y="395.8" text-anchor="end">a</text>
<text class="t" x="98" y="413.1" text-anchor="end">river</text>
<text class="t" x="98" y="430.3" text-anchor="end">ocean</text>
<text class="t" x="98" y="447.6" text-anchor="end">boat</text>
<text class="t" x="98" y="464.8" text-anchor="end">fish</text>
<text class="t" x="98" y="482.1" text-anchor="end">pond</text>
<text class="t" x="98" y="499.4" text-anchor="end">water</text>
<text class="t" x="112.1" y="527.8" text-anchor="middle">0</text>
<text class="t" x="199.0" y="527.8" text-anchor="middle">50</text>
<text class="t" x="286.0" y="527.8" text-anchor="middle">100</text>
<text class="t" x="372.9" y="527.8" text-anchor="middle">150</text>
<text class="t" x="459.9" y="527.8" text-anchor="middle">200</text>
<text class="t" x="546.8" y="527.8" text-anchor="middle">250</text>
<text class="t" x="633.8" y="527.8" text-anchor="middle">300</text>
<text class="t" x="720.7" y="527.8" text-anchor="middle">350</text>
<rect x="873.4" y="502.50" width="9.4" height="2" fill="#1a1a1a"/>
<text class="t" x="886.4" y="509.2">0</text>
<rect x="873.4" y="429.03" width="9.4" height="2" fill="#1a1a1a"/>
<text class="t" x="886.4" y="435.7">5</text>
<rect x="873.4" y="355.56" width="9.4" height="2" fill="#1a1a1a"/>
<text class="t" x="886.4" y="362.3">10</text>
<rect x="873.4" y="282.09" width="9.4" height="2" fill="#1a1a1a"/>
<text class="t" x="886.4" y="288.8">15</text>
<rect x="873.4" y="208.62" width="9.4" height="2" fill="#1a1a1a"/>
<text class="t" x="886.4" y="215.3">20</text>
<rect x="873.4" y="135.15" width="9.4" height="2" fill="#1a1a1a"/>
<text class="t" x="886.4" y="141.8">25</text>
<rect x="873.4" y="61.67" width="9.4" height="2" fill="#1a1a1a"/>
<text class="t" x="886.4" y="68.4">30</text>
</svg></body></html>
